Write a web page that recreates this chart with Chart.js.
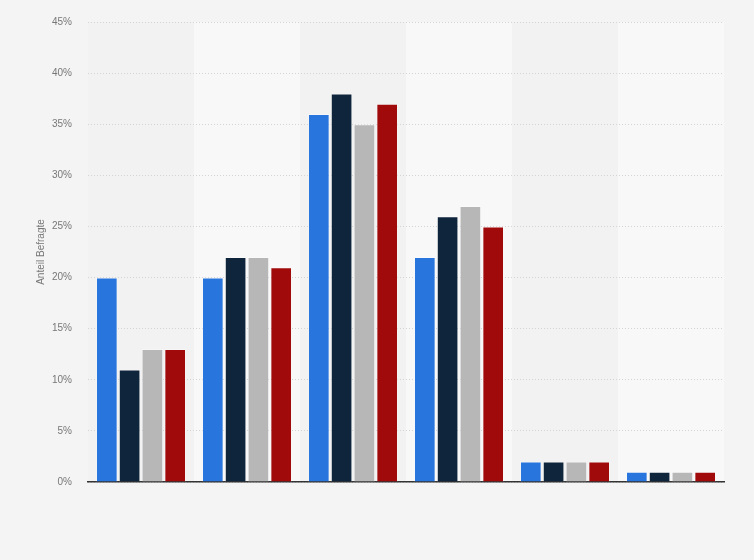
<!DOCTYPE html>
<html>
<head>
<meta charset="utf-8">
<script src="https://cdn.jsdelivr.net/npm/chart.js@4"></script>
<style>
html,body{margin:0;padding:0;background:#f4f4f4;}
#wrap{width:754px;height:560px;position:relative;}
</style>
</head>
<body>
<div id="wrap"><canvas id="c" width="754" height="560"></canvas></div>
<script>
const categories = ["Kategorie 1","Kategorie 2","Kategorie 3","Kategorie 4","Kategorie 5","Kategorie 6"];
const seriesNames = ["Serie 1","Serie 2","Serie 3","Serie 4"];
const series1 = [20, 20, 36, 22, 2, 1];
const series2 = [11, 22, 38, 26, 2, 1];
const series3 = [13, 22, 35, 27, 2, 1];
const series4 = [13, 21, 37, 25, 2, 1];
const yTicks = [0,5,10,15,20,25,30,35,40,45];
const colors = ["#2876dd","#0f253c","#b7b7b7","#a10a0a"];

const bandPlugin = {
  id:'bands',
  beforeDraw(chart){
    const {ctx, chartArea:a, scales:{x}} = chart;
    ctx.save();
    ctx.fillStyle = '#f4f4f4';
    ctx.fillRect(0,0,chart.width,chart.height);
    const n = categories.length;
    const w = (a.right-a.left)/n;
    for(let i=0;i<n;i++){
      const cx = x.getPixelForValue(i);
      ctx.fillStyle = (i%2===0) ? '#f2f2f2' : '#f8f8f8';
      ctx.fillRect(cx-w/2, a.top, w, a.bottom-a.top);
    }
    ctx.restore();
  }
};

const data = {
  labels: categories,
  datasets: [series1,series2,series3,series4].map((d,i)=>({
    label: seriesNames[i],
    data: d,
    backgroundColor: colors[i],
    borderColor: 'rgba(255,255,255,0.35)',
    borderWidth: 1,
    categoryPercentage: 0.86,
    barPercentage: 0.95
  }))
};

new Chart(document.getElementById('c'), {
  type:'bar',
  data,
  plugins:[bandPlugin],
  options:{
    responsive:false,
    animation:false,
    layout:{padding:{left:30,right:30,top:18,bottom:70}},
    plugins:{legend:{display:false},tooltip:{enabled:false}},
    scales:{
      x:{
        ticks:{display:false},
        grid:{display:false},
        border:{display:true,color:'#333',width:1.5}
      },
      y:{
        min:0,max:45,
        afterFit(s){ s.width = 58; },
        afterBuildTicks(s){ s.ticks = yTicks.map(v=>({value:v})); },
        ticks:{
          color:'#777',
          font:{family:'Arial, Liberation Sans, sans-serif',size:10},
          padding:16,
          callback:v=>v+'%'
        },
        grid:{color:'#d4d4d4',drawTicks:false,lineWidth:1},
        border:{display:false,dash:[1,2]},
        title:{
          display:true,
          text:'Anteil Befragte',
          color:'#777',
          font:{family:'Arial, Liberation Sans, sans-serif',size:10},
          padding:{top:5,bottom:0}
        }
      }
    }
  }
});
</script>
</body>
</html>
